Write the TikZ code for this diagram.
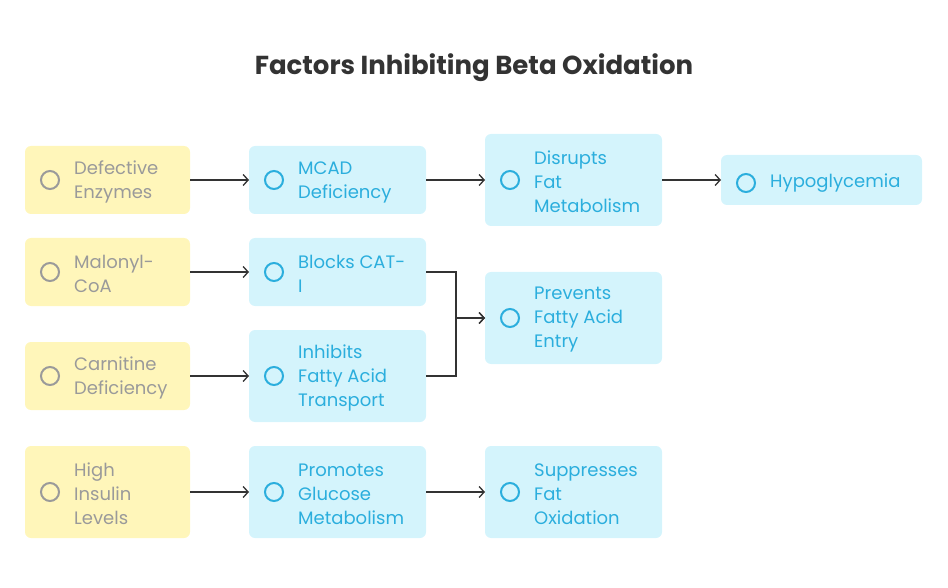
\documentclass[tikz,border=0pt]{standalone}
\usepackage{fontspec}
\usetikzlibrary{arrows.meta}
\setmainfont{Poppins}
\definecolor{yfill}{HTML}{FFF6BA}
\definecolor{bfill}{HTML}{D4F4FC}
\definecolor{ytext}{HTML}{9A9A9A}
\definecolor{btext}{HTML}{2BAEDD}
\definecolor{line}{HTML}{333333}
\begin{document}
\begin{tikzpicture}[x=1pt,y=-1pt,
 ybox/.style={fill=yfill,draw=none,rounded corners=6pt},
 bbox/.style={fill=bfill,draw=none,rounded corners=6pt},
 ytxt/.style={anchor=west,align=left,text=ytext,font=\fontsize{18}{24}\selectfont,inner sep=0pt},
 btxt/.style={anchor=west,align=left,text=btext,font=\fontsize{18}{24}\selectfont,inner sep=0pt},
 yic/.style={draw=ytext,line width=2pt,circle,minimum size=18pt,inner sep=0pt},
 bic/.style={draw=btext,line width=2pt,circle,minimum size=18pt,inner sep=0pt},
 arr/.style={draw=line,line width=1.3pt,-{Straight Barb[length=5pt,width=11pt]}}]
\useasboundingbox (0,0) rectangle (948,588);
\node[font=\bfseries\fontsize{26}{30}\selectfont,text=line] (title) at (474,68) {Factors Inhibiting Beta Oxidation};
% boxes
\path[ybox] (25,146) rectangle (190,214);
\path[ybox] (25,238) rectangle (190,306);
\path[ybox] (25,342) rectangle (190,410);
\path[ybox] (25,446) rectangle (190,538);
\path[bbox] (249,146) rectangle (426,214);
\path[bbox] (249,238) rectangle (426,306);
\path[bbox] (249,330) rectangle (426,422);
\path[bbox] (249,446) rectangle (426,538);
\path[bbox] (485,134) rectangle (662,226);
\path[bbox] (485,272) rectangle (662,364);
\path[bbox] (485,446) rectangle (662,538);
\path[bbox] (721,155) rectangle (922,205);
% anchors
\coordinate (a1r) at (190,180); \coordinate (b1l) at (249,180); \coordinate (b1r) at (426,180);
\coordinate (c1l) at (485,180); \coordinate (c1r) at (662,180); \coordinate (d1l) at (721,180);
\coordinate (a2r) at (190,272); \coordinate (b2l) at (249,272); \coordinate (b2r) at (426,272);
\coordinate (a3r) at (190,376); \coordinate (b3l) at (249,376); \coordinate (b3r) at (426,376);
\coordinate (c2l) at (485,318);
\coordinate (a4r) at (190,492); \coordinate (b4l) at (249,492); \coordinate (b4r) at (426,492); \coordinate (c4l) at (485,492);
% icons
\node[yic] (i1) at (50,180) {}; \node[yic] (i2) at (50,272) {}; \node[yic] (i3) at (50,376) {}; \node[yic] (i4) at (50,492) {};
\node[bic] (j1) at (274,180) {}; \node[bic] (j2) at (274,272) {}; \node[bic] (j3) at (274,376) {}; \node[bic] (j4) at (274,492) {};
\node[bic] (k1) at (510,180) {}; \node[bic] (k2) at (510,318) {}; \node[bic] (k3) at (510,492) {}; \node[bic] (k4) at (746,183) {};
% texts
\node[ytxt] (t1) at (74,182) {Defective\\Enzymes};
\node[ytxt] (t2) at (74,274) {Malonyl-\\CoA};
\node[ytxt] (t3) at (74,378) {Carnitine\\Deficiency};
\node[ytxt] (t4) at (74,494) {High\\Insulin\\Levels};
\node[btxt] (u1) at (298,182) {MCAD\\Deficiency};
\node[btxt] (u2) at (298,274) {Blocks CAT-\\I};
\node[btxt] (u3) at (298,378) {Inhibits\\Fatty Acid\\Transport};
\node[btxt] (u4) at (298,494) {Promotes\\Glucose\\Metabolism};
\node[btxt] (v1) at (534,182) {Disrupts\\Fat\\Metabolism};
\node[btxt] (v2) at (534,320) {Prevents\\Fatty Acid\\Entry};
\node[btxt] (v3) at (534,494) {Suppresses\\Fat\\Oxidation};
\node[btxt] (w1) at (770,183) {Hypoglycemia};
% connectors
\draw[arr] (a1r) -- (b1l); \draw[arr] (b1r) -- (c1l); \draw[arr] (c1r) -- (d1l);
\draw[arr] (a2r) -- (b2l); \draw[arr] (a3r) -- (b3l);
\draw[arr] (b2r) -- (456,272) -- (456,318) -- (c2l);
\draw[arr] (b3r) -- (456,376) -- (456,318) -- (c2l);
\draw[arr] (a4r) -- (b4l); \draw[arr] (b4r) -- (c4l);
\end{tikzpicture}
\end{document}
